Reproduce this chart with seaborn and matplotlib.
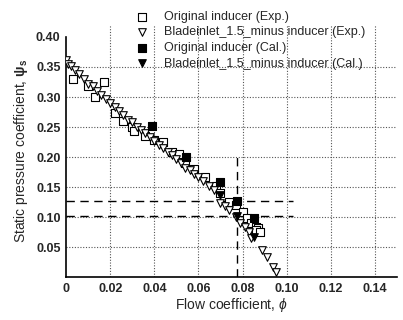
import matplotlib
matplotlib.use("Agg")
import matplotlib.pyplot as plt
import seaborn as sns
import pandas as pd
from matplotlib.ticker import FixedLocator

sns.set_theme(style="white")
plt.rcParams['font.family'] = ['Liberation Sans', 'DejaVu Sans']
plt.rcParams['mathtext.fontset'] = 'custom'
plt.rcParams['mathtext.it'] = 'Liberation Sans:italic'
plt.rcParams['mathtext.bf'] = 'Liberation Sans:bold'

# Original inducer (Exp.)
orig_exp_x = [0.003, 0.010, 0.013, 0.017, 0.022, 0.026, 0.030, 0.031, 0.036, 0.040,
              0.044, 0.048, 0.051, 0.054, 0.058, 0.063, 0.068, 0.070, 0.074, 0.077,
              0.080, 0.082, 0.084, 0.086, 0.087, 0.086, 0.088]
orig_exp_y = [0.330, 0.318, 0.300, 0.325, 0.273, 0.260, 0.250, 0.243, 0.235, 0.228,
              0.225, 0.208, 0.205, 0.190, 0.180, 0.166, 0.152, 0.140, 0.125, 0.120,
              0.108, 0.098, 0.090, 0.084, 0.082, 0.078, 0.075]

# Bladeinlet_1.5_minus inducer (Exp.)
blade_exp_x = [0.000, 0.001, 0.002, 0.004, 0.006, 0.008, 0.010, 0.012, 0.014, 0.016,
               0.018, 0.020, 0.022, 0.024, 0.026, 0.028, 0.030, 0.032, 0.034, 0.036,
               0.038, 0.040, 0.042, 0.044, 0.046, 0.048, 0.050, 0.052, 0.054, 0.056,
               0.058, 0.060, 0.062, 0.065, 0.067, 0.070, 0.072, 0.074, 0.077, 0.079,
               0.081, 0.083, 0.084, 0.089, 0.091, 0.094, 0.095]
blade_exp_y = [0.362, 0.355, 0.352, 0.345, 0.338, 0.330, 0.322, 0.318, 0.310, 0.303,
               0.297, 0.290, 0.283, 0.277, 0.270, 0.262, 0.258, 0.250, 0.245, 0.240,
               0.233, 0.226, 0.220, 0.215, 0.208, 0.203, 0.197, 0.190, 0.182, 0.178,
               0.172, 0.166, 0.160, 0.152, 0.145, 0.123, 0.118, 0.112, 0.100, 0.090,
               0.083, 0.075, 0.065, 0.045, 0.033, 0.017, 0.008]

# Original inducer (Cal.)
orig_cal_x = [0.039, 0.0545, 0.070, 0.0775, 0.085]
orig_cal_y = [0.252, 0.200, 0.158, 0.127, 0.099]

# Bladeinlet_1.5_minus inducer (Cal.)
blade_cal_x = [0.070, 0.0775, 0.085]
blade_cal_y = [0.136, 0.102, 0.066]

labels = ["Original inducer (Exp.)", "Bladeinlet_1.5_minus inducer (Exp.)",
          "Original inducer (Cal.)", "Bladeinlet_1.5_minus inducer (Cal.)"]

x_ticks = [0, 0.02, 0.04, 0.06, 0.08, 0.10, 0.12, 0.14]
x_tick_labels = ['0', '0.02', '0.04', '0.06', '0.08', '0.10', '0.12', '0.14']
y_ticks = [0.05, 0.10, 0.15, 0.20, 0.25, 0.30, 0.35, 0.40]
y_tick_labels = ['0.05', '0.10', '0.15', '0.20', '0.25', '0.30', '0.35', '0.40']

fig = plt.figure(figsize=(4.03, 3.20), dpi=100)
ax = fig.add_axes([0.164, 0.134, 0.821, 0.788])

ax.plot([0, 0.103], [0.127, 0.127], color='black', lw=1.0, dashes=(6, 4), zorder=1)
ax.plot([0, 0.103], [0.102, 0.102], color='black', lw=1.0, dashes=(6, 4), zorder=1)
ax.plot([0.0775, 0.0775], [0, 0.208], color='black', lw=1.0, dashes=(6, 4), zorder=1)

kw = dict(ax=ax, s=30, linewidth=0.8, edgecolor='black', zorder=3)
sns.scatterplot(x=orig_exp_x, y=orig_exp_y, marker='s', color='white', label=labels[0], **kw)
sns.scatterplot(x=blade_exp_x, y=blade_exp_y, marker='v', color='white', label=labels[1], **kw)
sns.scatterplot(x=orig_cal_x, y=orig_cal_y, marker='s', color='black', label=labels[2], **kw)
sns.scatterplot(x=blade_cal_x, y=blade_cal_y, marker='v', color='black', label=labels[3], **kw)

ax.set_xlim(0, 0.15)
ax.set_ylim(0, 0.42)
ax.set_xticks(x_ticks)
ax.set_xticklabels(x_tick_labels)
ax.xaxis.set_minor_locator(FixedLocator([0.01, 0.03, 0.05, 0.07, 0.09, 0.11, 0.13]))
ax.set_yticks(y_ticks)
ax.set_yticklabels(y_tick_labels)
ax.yaxis.set_minor_locator(FixedLocator([0.025, 0.075, 0.125, 0.175, 0.225, 0.275, 0.325, 0.375]))
for lab in ax.get_xticklabels() + ax.get_yticklabels():
    lab.set_fontweight('bold')
    lab.set_fontsize(9)

ax.tick_params(which='both', direction='in', color='black', width=1.0)
ax.tick_params(which='major', length=4, pad=4)
ax.tick_params(which='minor', length=3)

# grid (dotted)
for xv in x_ticks[1:]:
    ax.axvline(xv, color='#555555', lw=0.8, ls=(0, (1, 1.5)), zorder=0)
for yv in y_ticks[:-1]:
    ax.axhline(yv, color='#555555', lw=0.8, ls=(0, (1, 1.5)), zorder=0)

for sp in ['top', 'right']:
    ax.spines[sp].set_visible(False)
for sp in ['left', 'bottom']:
    ax.spines[sp].set_color('black')
    ax.spines[sp].set_linewidth(1.2)
ax.spines['left'].set_bounds(0, 0.40)

ax.set_xlabel(r"Flow coefficient, $\phi$", fontsize=10, labelpad=1)
ax.set_ylabel(r"Static pressure coefficient, $\mathbf{\psi}_\mathbf{s}$", fontsize=10, labelpad=4)

leg = ax.legend(loc='upper left', bbox_to_anchor=(136 / 403, 1 - 11 / 320),
                bbox_transform=fig.transFigure, frameon=False, fontsize=9,
                handlelength=1.0, handletextpad=1.2, labelspacing=0.28,
                borderpad=0, borderaxespad=0)
leg.set_zorder(5)

fig.savefig("out.png", dpi=100)
